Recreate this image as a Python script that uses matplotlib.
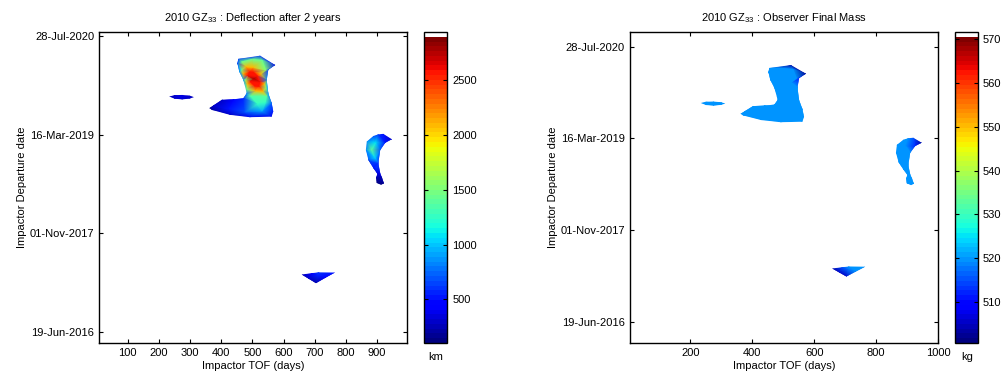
import matplotlib.pyplot as plt
import numpy as np
from matplotlib.colors import ListedColormap, Normalize
from matplotlib.patches import Polygon
from matplotlib.tri import Triangulation
import matplotlib.cm as cm

plt.rcParams['font.family'] = ['Liberation Sans', 'DejaVu Sans']
plt.rcParams['mathtext.fontset'] = 'custom'
plt.rcParams['mathtext.rm'] = 'Liberation Sans'
plt.rcParams['mathtext.it'] = 'Liberation Sans'
plt.rcParams['font.size'] = 8

# y axis: days since 19-Jun-2016
date_ticks = [0, 500, 1000, 1500]
date_labels = ['19-Jun-2016', '01-Nov-2017', '16-Mar-2019', '28-Jul-2020']

# blob 1: large region (TOF days, departure day, deflection km, final mass kg)
big_x = [455, 525, 573, 551, 546, 551, 562, 567, 562, 492, 428, 370, 362, 402, 439, 471, 482, 471, 458, 452]
big_y = [1384, 1400, 1353, 1328, 1277, 1210, 1159, 1117, 1091, 1088, 1100, 1125, 1134, 1176, 1179, 1184, 1210, 1277, 1319, 1362]
big_defl = [600, 550, 400, 650, 850, 850, 700, 500, 400, 400, 300, 200, 130, 300, 450, 550, 800, 900, 850, 700]
big_mass = [520, 503, 502, 511, 520, 520, 520, 520, 520, 520, 520, 520, 520, 520, 520, 520, 520, 520, 520, 520]
# interior points: peak, 2500 ring, 2000 ring, 1500 ring, lower band
big_in_x = [505,
            522, 525, 517, 502, 489, 485, 493, 508,
            533, 537, 526, 501, 478, 471, 484, 510,
            465, 499, 531, 542, 543, 545, 541, 515, 492, 484, 478, 465,
            531, 476, 422, 374]
big_in_y = [1282,
            1245, 1265, 1295, 1318, 1320, 1299, 1269, 1247,
            1220, 1259, 1305, 1342, 1344, 1310, 1259, 1222,
            1368, 1381, 1376, 1328, 1237, 1196, 1161, 1155, 1196, 1231, 1277, 1328,
            1120, 1115, 1130, 1145]
big_in_defl = [2800,
               2550, 2550, 2550, 2550, 2550, 2550, 2550, 2550,
               2100, 2100, 2100, 2100, 2100, 2100, 2100, 2100,
               1450, 1450, 1450, 1500, 1500, 1400, 1250, 1250, 1350, 1500, 1500, 1450,
               900, 700, 500, 300]
big_in_mass = [520,
               520, 520, 520, 520, 520, 520, 520, 520,
               520, 520, 520, 520, 520, 520, 520, 520,
               520, 520, 520, 520, 520, 520, 520, 520, 520, 520, 520, 520,
               520, 520, 520, 520]

# blob 2: hook near 900 days
hook_x = [920, 947, 926, 910, 904, 910, 916, 922, 913, 899, 897, 901, 888, 872, 864, 867, 888, 903]
hook_y = [1004, 977, 958, 922, 855, 804, 781, 753, 745, 755, 781, 801, 831, 872, 922, 965, 993, 1001]
hook_defl = [500, 300, 500, 700, 600, 400, 250, 150, 120, 120, 200, 350, 500, 700, 800, 800, 700, 600]
hook_mass = [515, 503, 512, 520, 520, 520, 520, 520, 520, 520, 520, 520, 520, 520, 520, 520, 520, 520]
hook_in_x = [883, 895, 893, 900, 908]
hook_in_y = [924, 960, 880, 830, 770]
hook_in_defl = [1400, 1100, 1050, 600, 200]
hook_in_mass = [520, 520, 520, 520, 520]

# blob 3: triangle near 700 days
tri_x = [658, 690, 711, 765, 735, 704, 680]
tri_y = [291, 298, 302, 301, 275, 247, 270]
tri_defl = [250, 450, 600, 500, 450, 200, 300]
tri_mass = [503, 515, 520, 520, 520, 506, 505]
tri_in_x = [710]
tri_in_y = [285]
tri_in_defl = [550]
tri_in_mass = [518]

# blob 4: thin sliver near 270 days
sl_x = [233, 250, 275, 300, 313, 300, 275, 250]
sl_y = [1193, 1200, 1201, 1197, 1190, 1183, 1178, 1182]
sl_defl = [250, 300, 320, 300, 250, 280, 300, 280]
sl_mass = [520, 520, 520, 520, 520, 520, 520, 520]
sl_in_x = [272]
sl_in_y = [1190]
sl_in_defl = [380]
sl_in_mass = [520]

blobs = [
    (big_x, big_y, big_defl, big_mass, big_in_x, big_in_y, big_in_defl, big_in_mass),
    (hook_x, hook_y, hook_defl, hook_mass, hook_in_x, hook_in_y, hook_in_defl, hook_in_mass),
    (tri_x, tri_y, tri_defl, tri_mass, tri_in_x, tri_in_y, tri_in_defl, tri_in_mass),
    (sl_x, sl_y, sl_defl, sl_mass, sl_in_x, sl_in_y, sl_in_defl, sl_in_mass),
]

# jet (64 levels) with a white band on top, as in the original colorbars
jet64 = plt.get_cmap('jet', 64)(np.arange(64))
cmap = ListedColormap(np.vstack([jet64, [1, 1, 1, 1]]))

fig = plt.figure(figsize=(10.01, 3.79), dpi=100)


def draw_panel(ax, cax, which, norm, title, unit, xlim, ylim, xticks, cticks):
    for b in blobs:
        ox, oy = b[0], b[1]
        vals = b[2] if which == 0 else b[3]
        ix, iy = b[4], b[5]
        ivals = b[6] if which == 0 else b[7]
        px = np.array(ox + ix, dtype=float)
        py = np.array(oy + iy, dtype=float)
        pv = np.array(vals + ivals, dtype=float)
        t = Triangulation(px, py)
        art = ax.tripcolor(t, pv, shading='gouraud', cmap=cmap, norm=norm)
        poly = Polygon(np.column_stack([ox, oy]), closed=True, facecolor='none', edgecolor='none')
        ax.add_patch(poly)
        art.set_clip_path(poly)

    ax.set_xlim(*xlim)
    ax.set_ylim(*ylim)
    ax.set_xticks(xticks)
    ax.set_yticks(date_ticks)
    ax.set_yticklabels(date_labels)
    ax.tick_params(direction='in', top=True, right=True, length=3, width=0.8, labelsize=8)
    for s in ax.spines.values():
        s.set_linewidth(1.0)
    ax.set_xlabel('Impactor TOF (days)', fontsize=8, labelpad=2)
    ax.set_ylabel('Impactor Departure date', fontsize=8, labelpad=2)
    ax.set_title(title, fontsize=8, pad=8)

    sm = cm.ScalarMappable(norm=norm, cmap=cmap)
    cb = fig.colorbar(sm, cax=cax, ticks=cticks)
    cb.outline.set_linewidth(1.0)
    cax.tick_params(direction='in', left=True, right=True, length=3, width=0.8, labelsize=8)
    cax.text(0.5, -0.03, unit, transform=cax.transAxes, ha='center', va='top', fontsize=8)


ax1 = fig.add_axes([0.0989, 0.095, 0.308, 0.8206])
cax1 = fig.add_axes([0.4239, 0.095, 0.023, 0.8206])
draw_panel(ax1, cax1, 0, Normalize(101, 2940), r'2010 GZ$_{33}$ : Deflection after 2 years', 'km',
           (8, 997), (-56, 1520), [100, 200, 300, 400, 500, 600, 700, 800, 900],
           [500, 1000, 1500, 2000, 2500])

ax2 = fig.add_axes([0.6291, 0.095, 0.308, 0.8206])
cax2 = fig.add_axes([0.9544, 0.095, 0.0227, 0.8206])
draw_panel(ax2, cax2, 1, Normalize(500.6, 571.7), r'2010 GZ$_{33}$ : Observer Final Mass', 'kg',
           (4, 1000), (-115, 1580), [200, 400, 600, 800, 1000],
           [510, 520, 530, 540, 550, 560, 570])

fig.savefig('out.png', dpi=100)
